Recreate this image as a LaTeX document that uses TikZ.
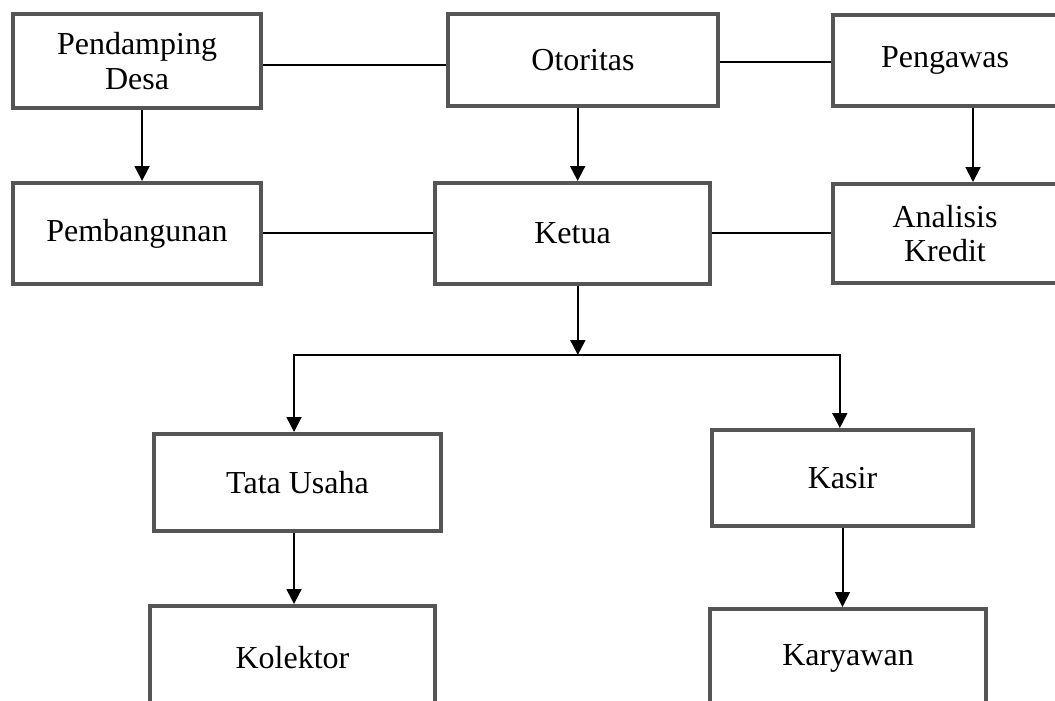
\documentclass[tikz,border=0pt]{standalone}
\usepackage{fontspec}
\setmainfont{Liberation Serif}
\usetikzlibrary{arrows.meta}
\definecolor{boxgray}{HTML}{555555}

\begin{document}
\begin{tikzpicture}[x=0.375pt,y=-0.375pt]

\tikzstyle{box} = [rectangle,draw=boxgray,line width=1.5pt,align=center,inner sep=0pt,font=\fontsize{12}{13}\selectfont];%
\tikzstyle{conn} = [-,line width=0.75pt];
\tikzstyle{arr} = [-{Triangle[length=5.6pt,width=5.6pt]},line width=0.75pt];

\useasboundingbox (0,0) rectangle (1055,701);
\clip (0,0) rectangle (1055,701);

% top row
\node[box,minimum width=93pt,minimum height=35.25pt] at (137,61) (pd) {Pendamping\\ Desa};
\node[box,minimum width=101.25pt,minimum height=34.5pt] at (583,60) (ot) {Otoritas};
\node[box,minimum width=84pt,minimum height=34.1pt] at (945,60.5) (pg) {Pengawas};

% second row
\node[box,minimum width=93pt,minimum height=37.9pt] at (137,233.5) (pb) {Pembangunan};
\node[box,minimum width=103.1pt,minimum height=37.9pt] at (572.5,233.5) (kt) {Ketua};
\node[box,minimum width=84pt,minimum height=37.1pt] at (945,233.5) (ak) {Analisis\\ Kredit};

% lower part
\node[box,minimum width=107.6pt,minimum height=36.4pt] at (297.5,482.5) (tu) {Tata Usaha};
\node[box,minimum width=97.9pt,minimum height=36pt] at (842.5,478) (ks) {Kasir};
\node[box,minimum width=106.9pt,minimum height=39pt] at (292.5,658) (kl) {Kolektor};
\node[box,minimum width=103.5pt,minimum height=36.75pt] at (848,658) (ky) {Karyawan};

\path ([yshift=-1.5pt]pd.east) edge[conn] ([yshift=-1.5pt]pd.east -| ot.west);
\path ([yshift=-0.7pt]ot.east) edge[conn] ([yshift=-0.7pt]ot.east -| pg.west);
\path (pb.east) edge[conn] (pb.east -| kt.west);
\path (kt.east) edge[conn] (kt.east -| ak.west);

\path ([xshift=1.9pt]pd.south) edge[arr] ([xshift=1.9pt]pd.south |- pb.north);
\path ([xshift=-2pt]ot.south) edge[arr] ([xshift=-2pt]ot.south |- kt.north);
\path ([xshift=10.5pt]pg.south) edge[arr] ([xshift=10.5pt]pg.south |- ak.north);

\coordinate (br) at (578,355);
\path ([xshift=2pt]kt.south) edge[arr] ([xshift=2pt]kt.south |- br);
\path (br) edge[arr,to path={-| (\tikztotarget)}] ([xshift=-1.3pt]tu.north);
\path (br) edge[arr,to path={-| (\tikztotarget)}] ([xshift=-1pt]ks.north);

\path ([xshift=-1.3pt]tu.south) edge[arr] ([xshift=-1.3pt]tu.south |- kl.north);
\path (ks.south) edge[arr] (ks.south |- ky.north);

\end{tikzpicture}
\end{document}
